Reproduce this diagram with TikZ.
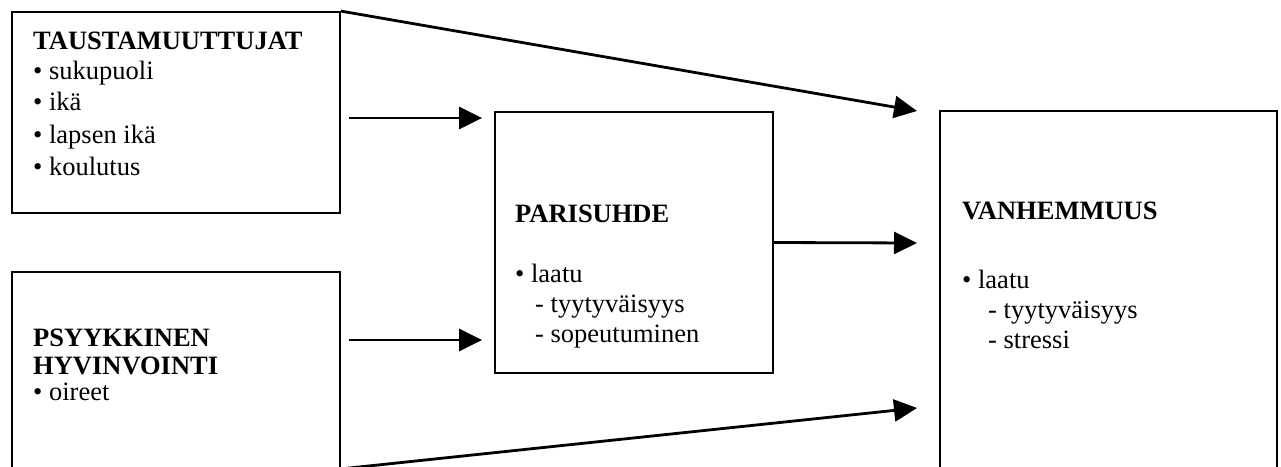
\documentclass[tikz,border=0pt]{standalone}
\usepackage{fontspec}
\setmainfont{Liberation Serif}
\usetikzlibrary{arrows.meta}
\begin{document}
\begin{tikzpicture}[x=1pt,y=-1pt,
  box/.style={draw, line width=1.8pt, rectangle, inner sep=0pt},
  txt/.style={anchor=base west, inner sep=0pt, font=\fontsize{26.5}{31}\selectfont},
  hd/.style={txt, font=\fontsize{26.5}{31}\selectfont\bfseries},
  arr/.style={line width=2.8pt, -{Triangle[length=23pt,width=22pt]}}]
\useasboundingbox (0,0) rectangle (1281,466);
\clip (0,0) rectangle (1281,466);
% boxes
\node[box, minimum width=328pt, minimum height=201pt] (ta) at (176,112.5) {};
\node[box, minimum width=328pt, minimum height=196pt] (ps) at (176,370) {};
\node[box, minimum width=278pt, minimum height=261pt] (pa) at (634,242.5) {};
\node[box, minimum width=337pt, minimum height=357pt] (va) at (1108.5,289.5) {};
% texts box A
\node[hd] (ta0) at (33,49) {TAUSTAMUUTTUJAT};
\node[txt] (ta1) at (33,79) {\textbullet\ sukupuoli};
\node[txt] (ta2) at (33,110) {\textbullet\ ikä};
\node[txt] (ta3) at (33,143) {\textbullet\ lapsen ikä};
\node[txt] (ta4) at (33,175) {\textbullet\ koulutus};
% texts box B
\node[hd] (ps0) at (33,346) {PSYYKKINEN};
\node[hd] (ps1) at (33,374) {HYVINVOINTI};
\node[txt] (ps2) at (33,400) {\textbullet\ oireet};
% texts box C
\node[hd] (pa0) at (515,222) {PARISUHDE};
\node[txt] (pa1) at (515,282) {\textbullet\ laatu};
\node[txt] (pa2) at (535,312) {- tyytyväisyys};
\node[txt] (pa3) at (535,342) {- sopeutuminen};
% texts box D
\node[hd] (va0) at (962,219) {VANHEMMUUS};
\node[txt] (va1) at (962,288) {\textbullet\ laatu};
\node[txt] (va2) at (988,318) {- tyytyväisyys};
\node[txt] (va3) at (988,348) {- stressi};
% connector ends
\coordinate (a1) at (0,118);
\coordinate (a2) at (0,340);
\coordinate (t1) at (917,111);
\coordinate (t2) at (917,243);
\coordinate (t3) at (917,408);
% connectors
\draw[arr, shorten <=8pt, shorten >=12pt] (ta.east |- a1) -- (pa.west |- a1);
\draw[arr, shorten <=8pt, shorten >=12pt] (ps.east |- a2) -- (pa.west |- a2);
\draw[arr] (ta.north east) -- (t1);
\draw[arr] (pa.east) -- (t2);
\draw[arr] (ps.south east) -- (t3);
\end{tikzpicture}
\end{document}
